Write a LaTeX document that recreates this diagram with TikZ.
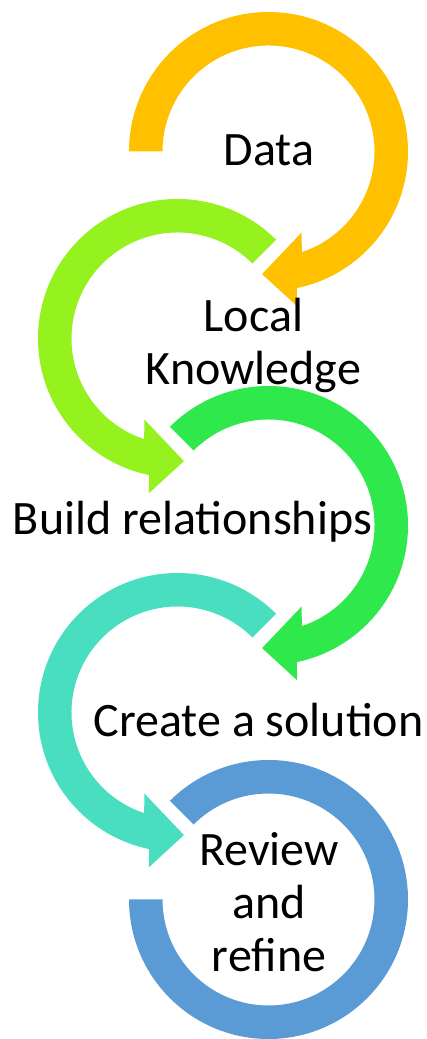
\documentclass[tikz,border=0pt]{standalone}
\usepackage{fontspec}
\setmainfont{Carlito}
\usepackage{tikz}
\usetikzlibrary{positioning}

\definecolor{gold1}{RGB}{255, 192, 0}
\definecolor{lime1}{RGB}{150, 242, 30}
\definecolor{green1}{RGB}{46, 232, 76}
\definecolor{teal1}{RGB}{74, 222, 193}
\definecolor{blue1}{RGB}{91, 155, 213}

\tikzset{
  cyclelabel/.style={font=\fontsize{48}{53}\selectfont, align=center, anchor=base, inner sep=0pt}
}

% ring turning clockwise, head at the bottom: centre, start angle, colour
\newcommand{\cwarrow}[3]{%
  \fill[#3, shift={(#1)}] (#2:139.5) arc[start angle=#2, end angle=-78.3, radius=139.5]
    -- (-79.5:157.5) -- (-93:122.75) -- (-67.7:87.5) -- (-71.7:106)
    arc[start angle=-71.7, end angle=#2, radius=106] -- cycle;}

% same, turning the other way
\newcommand{\ccwarrow}[3]{%
  \fill[#3, shift={(#1)}] (#2:139.5) arc[start angle=#2, end angle=258.3, radius=139.5]
    -- (259.5:157.5) -- (273:122.75) -- (247.7:87.5) -- (251.7:106)
    arc[start angle=251.7, end angle=#2, radius=106] -- cycle;}

\begin{document}
\begin{tikzpicture}[x=1pt, y=1pt]
  \useasboundingbox (0,0) rectangle (426,1039);

  \coordinate (c1) at (268.5, 887.5);
  \coordinate (c2) at (177.5, 700.5);
  \coordinate (c3) at (268.5, 513.5);
  \coordinate (c4) at (177.5, 326.5);
  \coordinate (c5) at (268.5, 139.5);

  \cwarrow{c1}{180}{gold1}
  \ccwarrow{c2}{45}{lime1}
  \cwarrow{c3}{135}{green1}
  \ccwarrow{c4}{45}{teal1}
  % last ring has no head
  \fill[blue1, shift={(c5)}] (180:139.5) arc[start angle=180, end angle=495, radius=139.5]
    -- (495:106) arc[start angle=495, end angle=180, radius=106] -- cycle;

  % base of a stacked label is its last line
  \node[cyclelabel] (data) at (269, 873) {Data};
  \node[cyclelabel] (local) at (253.5, 654) {Local\\Knowledge};
  \node[cyclelabel] (build) at (192.5, 504) {Build relationships};
  \node[cyclelabel] (create) at (258.5, 302) {Create a solution};
  \node[cyclelabel] (review) at (269, 67) {Review\\and\\refine};
\end{tikzpicture}
\end{document}
